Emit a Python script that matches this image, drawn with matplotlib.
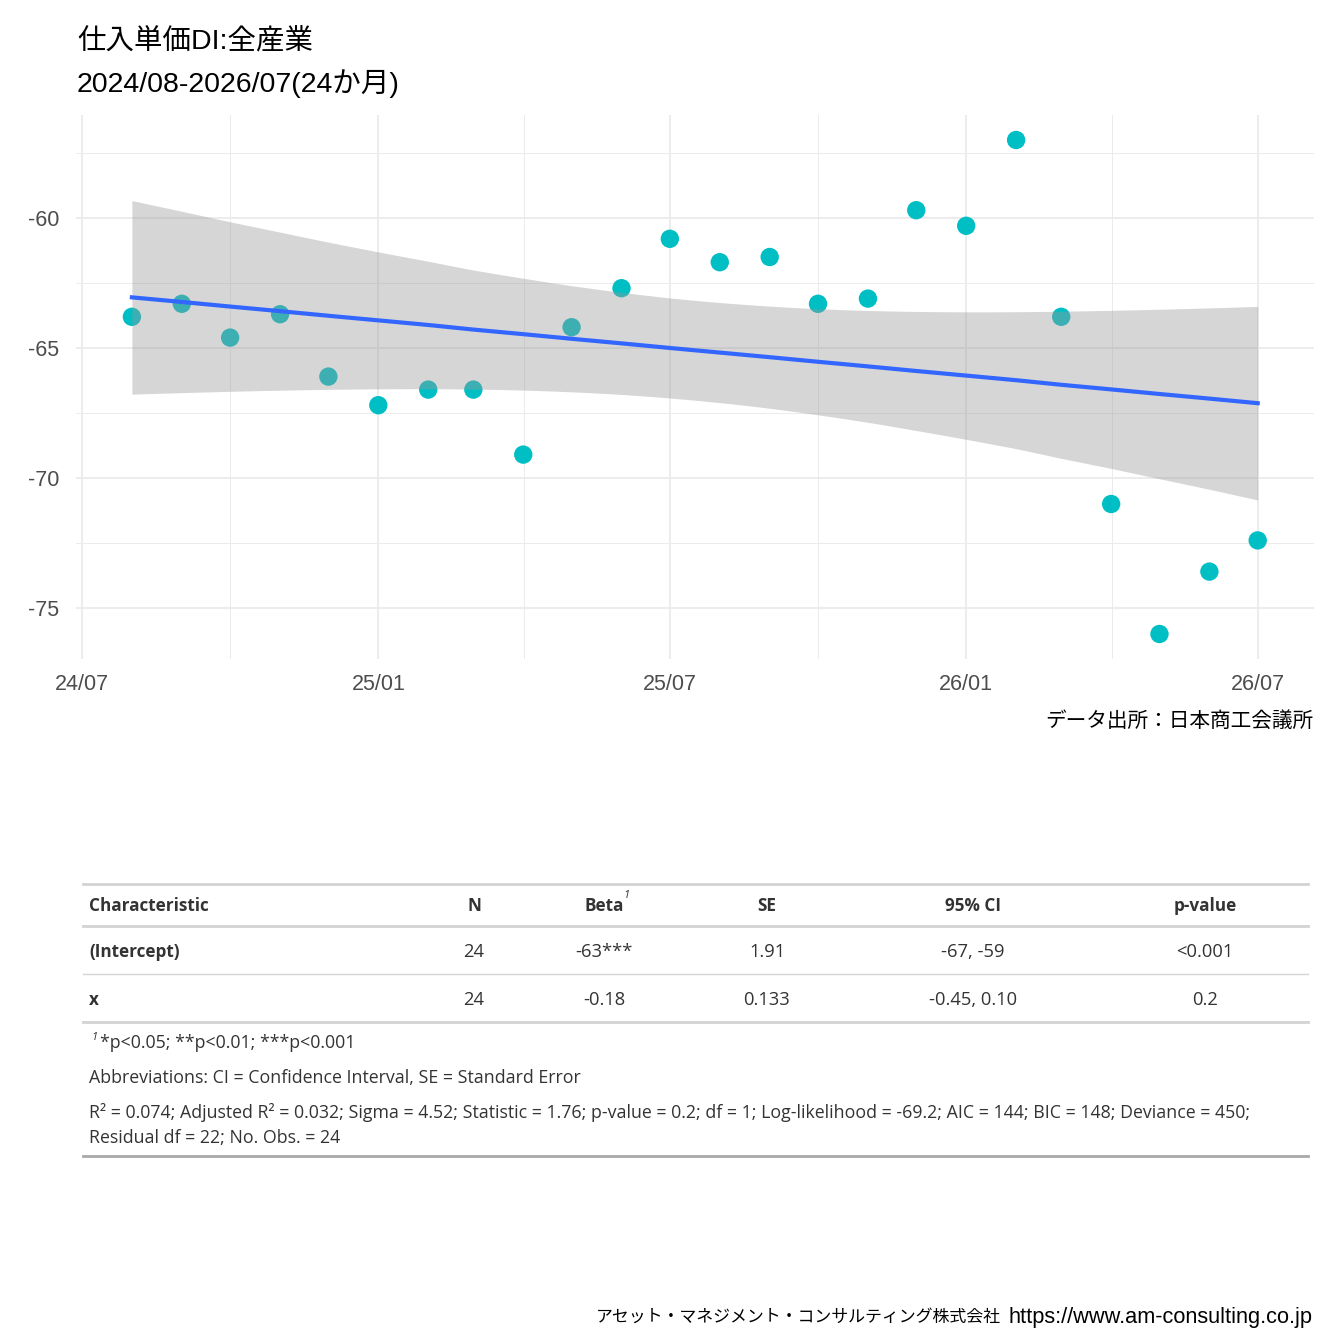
import numpy as np
import pandas as pd
import matplotlib
matplotlib.use("Agg")
import matplotlib.pyplot as plt
import matplotlib.dates as mdates
from matplotlib.lines import Line2D

# data
months = pd.date_range("2024-08-01", "2026-07-01", freq="MS")
di_values = [-63.8, -63.3, -64.6, -63.7, -66.1, -67.2, -66.6, -66.6, -69.1, -64.2,
             -62.7, -60.8, -61.7, -61.5, -63.3, -63.1, -59.7, -60.3, -57.0, -63.8,
             -71.0, -76.0, -73.6, -72.4]
x_breaks = ["2024-07-01", "2025-01-01", "2025-07-01", "2026-01-01", "2026-07-01"]
x_labels = ["24/07", "25/01", "25/07", "26/01", "26/07"]
y_breaks = [-60, -65, -70, -75]

table_header = ["Characteristic", "N", "Beta", "SE", "95% CI", "p-value"]
table_rows = [
    ["(Intercept)", "24", "-63***", "1.91", "-67, -59", "<0.001"],
    ["x", "24", "-0.18", "0.133", "-0.45, 0.10", "0.2"],
]
footnotes = [
    "*p<0.05; **p<0.01; ***p<0.001",
    "Abbreviations: CI = Confidence Interval, SE = Standard Error",
    "R² = 0.074; Adjusted R² = 0.032; Sigma = 4.52; Statistic = 1.76; p-value = 0.2; df = 1; Log-likelihood = -69.2; AIC = 144; BIC = 148; Deviance = 450;",
    "Residual df = 22; No. Obs. = 24",
]

W = H = 1344
JP = ["Liberation Sans", "Noto Sans CJK JP"]
TBL = ["Open Sans", "Noto Sans CJK JP"]


def fx(px):
    return px / W


def fy(py):
    return 1 - py / H


fig = plt.figure(figsize=(13.44, 13.44), dpi=100)

# panel
left, right, top, bottom = 75.6, 1314, 115.3, 658.7
ax = fig.add_axes([fx(left), fy(bottom), fx(right - left), (bottom - top) / H])

y = np.array(di_values)
xnum = mdates.date2num(months)
idx = np.arange(1, len(y) + 1)

# linear fit with 95% CI (like geom_smooth(method="lm"))
slope, icpt = np.polyfit(idx, y, 1)
resid = y - (icpt + slope * idx)
n = len(y)
s = np.sqrt(np.sum(resid ** 2) / (n - 2))
sxx = np.sum((idx - idx.mean()) ** 2)
t_crit = 2.0739
grid_i = np.linspace(idx[0], idx[-1], 80)
grid_x = np.interp(grid_i, idx, xnum)
fit = icpt + slope * grid_i
se = s * np.sqrt(1 / n + (grid_i - idx.mean()) ** 2 / sxx)

ax.scatter(xnum, y, s=175, color="#00BFC4", edgecolors="none", zorder=3)
ax.fill_between(grid_x, fit - t_crit * se, fit + t_crit * se, color="#999999",
                alpha=0.4, linewidth=0, zorder=4)
ax.plot(grid_x, fit, color="#3366FF", lw=3.0, zorder=5)

span = xnum[-1] - xnum[0]
ax.set_xlim(xnum[0] - 0.05 * span, xnum[-1] + 0.05 * span)
yspan = y.max() - y.min()
ax.set_ylim(y.min() - 0.05 * yspan, y.max() + 0.05 * yspan)

xb = mdates.date2num(pd.to_datetime(x_breaks))
ax.set_xticks(xb)
ax.set_xticklabels(x_labels)
ax.set_xticks((xb[:-1] + xb[1:]) / 2, minor=True)
ax.set_yticks(y_breaks)
ax.set_yticklabels([str(v) for v in y_breaks])
ax.set_yticks([v - 2.5 for v in y_breaks[:-1]] + [-57.5], minor=True)

ax.grid(True, which="major", color="#EBEBEB", lw=1.3)
ax.grid(True, which="minor", color="#EBEBEB", lw=0.7)
ax.set_axisbelow(True)
for sp in ax.spines.values():
    sp.set_visible(False)
ax.tick_params(which="both", length=0)
ax.tick_params(axis="x", pad=11, labelsize=15.5, labelcolor="#4D4D4D")
ax.tick_params(axis="y", pad=12, labelsize=15.5, labelcolor="#4D4D4D")
for lab in ax.get_xticklabels() + ax.get_yticklabels():
    lab.set_family(JP)

# titles and caption
fig.text(fx(77), fy(42), "仕入単価DI:全産業", family=JP, fontsize=20.5, va="center", ha="left")
fig.text(fx(77), fy(84), "2024/08-2026/07(24か月)", family=JP, fontsize=20.5, va="center", ha="left")
fig.text(fx(1313), fy(721), "データ出所：日本商工会議所", family=JP, fontsize=14.9,
         va="center", ha="right")
fig.text(fx(1313), fy(1317), "https://www.am-consulting.co.jp",
         family=JP, fontsize=15.7, va="center", ha="right")
fig.text(fx(1001), fy(1317), "アセット・マネジメント・コンサルティング株式会社",
         family=JP, fontsize=12.2, va="center", ha="right")

# regression table
tx0, tx1 = 83, 1308
col_x = [89, 474, 604, 767, 973, 1205]
col_ha = ["left", "center", "center", "center", "center", "center"]
txt_color = "#333333"


def hline(py, lw, color):
    fig.add_artist(Line2D([fx(tx0), fx(tx1)], [fy(py), fy(py)], lw=lw, color=color))


hline(884, 2.0, "#D3D3D3")
hline(926, 2.0, "#D3D3D3")
hline(974, 1.0, "#D3D3D3")
hline(1022, 2.0, "#D3D3D3")
hline(1156, 2.0, "#A8A8A8")

for cx, ha, lab in zip(col_x, col_ha, table_header):
    fig.text(fx(cx), fy(906), lab, family=TBL, fontsize=12.3, fontweight="bold",
             color=txt_color, ha=ha, va="center")
fig.text(fx(623), fy(896), "1", family=TBL, fontsize=8, style="italic",
         color=txt_color, ha="left", va="center")

for ry, row in zip([952, 1000], table_rows):
    for j, (cx, ha, val) in enumerate(zip(col_x, col_ha, row)):
        fig.text(fx(cx), fy(ry), val, family=TBL,
                 fontsize=12.3 if j == 0 else 13.2,
                 fontweight="bold" if j == 0 else "normal",
                 color=txt_color, ha=ha, va="center")

fig.text(fx(91), fy(1037), "1", family=TBL, fontsize=8, style="italic",
         color=txt_color, ha="left", va="center")
fig.text(fx(100), fy(1043), footnotes[0], family=TBL, fontsize=12.8,
         color=txt_color, ha="left", va="center")
for py, line in zip([1078, 1113, 1138], footnotes[1:]):
    fig.text(fx(89), fy(py), line, family=TBL, fontsize=12.8,
             color=txt_color, ha="left", va="center")

fig.savefig("out.png", dpi=100, facecolor="white")
